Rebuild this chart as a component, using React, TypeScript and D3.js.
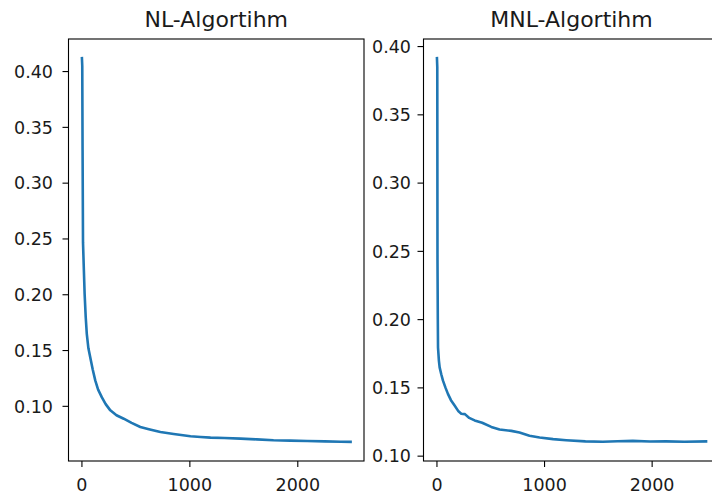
import React, { useEffect, useRef } from "react";
import * as d3 from "d3";

// iterations / loss
const nlIter = [0, 3, 6, 10, 18, 25, 35, 45, 60, 83, 100, 124, 150, 185, 220, 263, 320, 387, 460, 541, 620, 727, 850, 1006, 1100, 1192, 1320, 1470, 1620, 1775, 1930, 2087, 2250, 2400, 2489];
const nlLoss = [0.412, 0.405, 0.33, 0.2467, 0.222, 0.2006, 0.18, 0.165, 0.152, 0.141, 0.133, 0.123, 0.115, 0.108, 0.102, 0.0964, 0.092, 0.0889, 0.0852, 0.0815, 0.0795, 0.077, 0.0752, 0.0732, 0.0725, 0.072, 0.0716, 0.0711, 0.0704, 0.0696, 0.0693, 0.069, 0.0686, 0.0683, 0.0682];

const mnlIter = [0, 3, 5, 8, 10, 18, 25, 40, 56, 80, 102, 130, 164, 200, 226, 260, 300, 350, 420, 505, 582, 691, 767, 860, 954, 1080, 1201, 1380, 1541, 1680, 1820, 1980, 2130, 2300, 2501];
const mnlLoss = [0.3915, 0.385, 0.2437, 0.2, 0.1795, 0.17, 0.165, 0.16, 0.1553, 0.15, 0.1456, 0.141, 0.1371, 0.1328, 0.1311, 0.1308, 0.128, 0.1262, 0.1245, 0.1214, 0.1195, 0.1185, 0.1173, 0.115, 0.1137, 0.1125, 0.1117, 0.1108, 0.1105, 0.1109, 0.1112, 0.1107, 0.1108, 0.1106, 0.1108];

const nlYTicks = [0.1, 0.15, 0.2, 0.25, 0.3, 0.35, 0.4];
const mnlYTicks = [0.1, 0.15, 0.2, 0.25, 0.3, 0.35, 0.4];
const xTicks = [0, 1000, 2000];

const panels = [
  { title: "NL-Algortihm", iter: nlIter, loss: nlLoss, yTicks: nlYTicks, x0: 68.5, x1: 364, labelX: 53 },
  { title: "MNL-Algortihm", iter: mnlIter, loss: mnlLoss, yTicks: mnlYTicks, x0: 423.5, x1: 719.5, labelX: 411 },
];

const top = 39;
const bottom = 461;
const font = "DejaVu Sans, sans-serif";

// matplotlib style 5% padding
function padded(vals: number[]): [number, number] {
  const [lo, hi] = d3.extent(vals) as [number, number];
  const m = (hi - lo) * 0.05;
  return [lo - m, hi + m];
}

export default function App() {
  const svgRef = useRef<SVGSVGElement>(null);

  useEffect(() => {
    const svg = d3.select(svgRef.current);
    svg.selectAll("*").remove();

    panels.forEach((p) => {
      const x = d3.scaleLinear().domain(padded(p.iter)).range([p.x0, p.x1]);
      const y = d3.scaleLinear().domain(padded(p.loss)).range([bottom, top]);
      const g = svg.append("g");

      const line = d3
        .line<number>()
        .x((_, i) => x(p.iter[i]))
        .y((d) => y(d));

      g.append("path")
        .datum(p.loss)
        .attr("d", line)
        .attr("fill", "none")
        .attr("stroke", "#1f77b4")
        .attr("stroke-width", 2.6)
        .attr("stroke-linejoin", "round")
        .attr("stroke-linecap", "square");

      g.append("rect")
        .attr("x", p.x0)
        .attr("y", top)
        .attr("width", p.x1 - p.x0)
        .attr("height", bottom - top)
        .attr("fill", "none")
        .attr("stroke", "#000")
        .attr("stroke-width", 1.1);

      xTicks.forEach((t) => {
        g.append("line")
          .attr("x1", x(t))
          .attr("x2", x(t))
          .attr("y1", bottom)
          .attr("y2", bottom + 6)
          .attr("stroke", "#000")
          .attr("stroke-width", 1.1);
        g.append("text")
          .attr("x", x(t))
          .attr("y", 491)
          .attr("text-anchor", "middle")
          .attr("font-family", font)
          .attr("font-size", 17.5)
          .attr("fill", "#1a1a1a")
          .text(String(t));
      });

      p.yTicks.forEach((t) => {
        g.append("line")
          .attr("x1", p.x0 - 6)
          .attr("x2", p.x0)
          .attr("y1", y(t))
          .attr("y2", y(t))
          .attr("stroke", "#000")
          .attr("stroke-width", 1.1);
        g.append("text")
          .attr("x", p.labelX)
          .attr("y", y(t))
          .attr("dy", "0.36em")
          .attr("text-anchor", "end")
          .attr("font-family", font)
          .attr("font-size", 17.5)
          .attr("fill", "#1a1a1a")
          .text(t.toFixed(2));
      });

      g.append("text")
        .attr("x", (p.x0 + p.x1) / 2)
        .attr("y", 27)
        .attr("text-anchor", "middle")
        .attr("font-family", font)
        .attr("font-size", 22)
        .attr("fill", "#1a1a1a")
        .text(p.title);
    });
  }, []);

  return (
    <svg
      ref={svgRef}
      width="712"
      height="496"
      style={{ position: "absolute", left: 0, top: 0, background: "#fff" }}
    />
  );
}
